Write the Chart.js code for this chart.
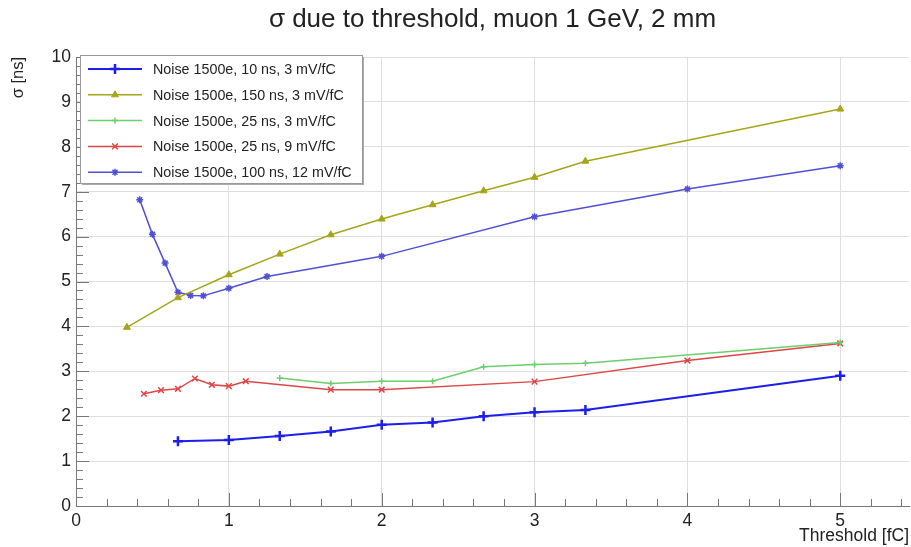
<!DOCTYPE html>
<html>
<head>
<meta charset="utf-8">
<style>
	html, body { margin: 0; padding: 0; background: #fff; }
	canvas { display: block; }
</style>
</head>
<body>
<canvas id="myChart" width="911" height="547"></canvas>

<script src="https://cdn.jsdelivr.net/npm/chart.js"></script>
<script>

	// threshold [fC] and sigma [ns] per curve
	const x10ns = [0.667, 1.0, 1.333, 1.667, 2.0, 2.333, 2.667, 3.0, 3.333, 5.0]
	const y10ns = [1.44, 1.47, 1.56, 1.66, 1.81, 1.86, 2.0, 2.09, 2.14, 2.9]

	const x150ns = [0.333, 0.667, 1.0, 1.333, 1.667, 2.0, 2.333, 2.667, 3.0, 3.333, 5.0]
	const y150ns = [3.98, 4.64, 5.15, 5.61, 6.04, 6.39, 6.71, 7.02, 7.32, 7.68, 8.84]

	const x25ns3 = [1.333, 1.667, 2.0, 2.333, 2.667, 3.0, 3.333, 5.0]
	const y25ns3 = [2.85, 2.73, 2.78, 2.78, 3.1, 3.15, 3.18, 3.64]

	const x25ns9 = [0.444, 0.556, 0.667, 0.778, 0.889, 1.0, 1.111, 1.667, 2.0, 3.0, 4.0, 5.0]
	const y25ns9 = [2.5, 2.58, 2.61, 2.84, 2.7, 2.67, 2.78, 2.59, 2.59, 2.77, 3.24, 3.62]

	const x100ns = [0.417, 0.5, 0.583, 0.667, 0.75, 0.833, 1.0, 1.25, 2.0, 3.0, 4.0, 5.0]
	const y100ns = [6.82, 6.05, 5.41, 4.76, 4.69, 4.68, 4.85, 5.11, 5.56, 6.44, 7.06, 7.58]

	const labels = [
		'Noise 1500e, 10 ns, 3 mV/fC',
		'Noise 1500e, 150 ns, 3 mV/fC',
		'Noise 1500e, 25 ns, 3 mV/fC',
		'Noise 1500e, 25 ns, 9 mV/fC',
		'Noise 1500e, 100 ns, 12 mV/fC'
	]

	const toPoints = (xs, ys) => xs.map((x, i) => ({ x: x, y: ys[i] }))

	const font = '"Liberation Sans", Arial, sans-serif'

	// minor ticks on the bottom and left edges, like the ROOT frame
	const minorTicks = {
		id: 'minorTicks',
		afterDraw(chart) {
			const ctx = chart.ctx
			const a = chart.chartArea
			const xs = chart.scales.x
			const ys = chart.scales.y
			ctx.save()
			ctx.strokeStyle = '#777'
			ctx.lineWidth = 1
			ctx.beginPath()
			for (let i = 0; i <= 50; i++) {
				const py = Math.round(ys.getPixelForValue(i * 0.2)) + 0.5
				const len = i % 5 === 0 ? 13 : 7
				ctx.moveTo(a.left, py)
				ctx.lineTo(a.left + len, py)
			}
			for (let i = 0; i <= 27; i++) {
				const px = Math.round(xs.getPixelForValue(i * 0.2)) + 0.5
				const len = i % 5 === 0 ? 13 : 7
				ctx.moveTo(px, a.bottom)
				ctx.lineTo(px, a.bottom - len)
			}
			ctx.stroke()
			ctx.restore()
		}
	}

	// ROOT-style legend box in the top left corner
	const boxLegend = {
		id: 'boxLegend',
		afterDraw(chart) {
			const ctx = chart.ctx
			const a = chart.chartArea
			const bx = a.left + 4, by = a.top - 2, bw = 282, bh = 128
			ctx.save()
			ctx.fillStyle = '#aaa'
			ctx.fillRect(bx + 2, by + 2, bw, bh)
			ctx.fillStyle = '#fff'
			ctx.fillRect(bx, by, bw, bh)
			ctx.strokeStyle = '#999'
			ctx.lineWidth = 1
			ctx.strokeRect(bx + 0.5, by + 0.5, bw, bh)
			chart.data.datasets.forEach((ds, i) => {
				const yy = by + 14 + i * 25.8
				ctx.strokeStyle = ds.borderColor
				ctx.lineWidth = ds.borderWidth
				ctx.beginPath()
				ctx.moveTo(bx + 8, yy)
				ctx.lineTo(bx + 62, yy)
				ctx.stroke()
				ctx.fillStyle = ds.pointBackgroundColor
				ctx.strokeStyle = ds.pointBorderColor
				ctx.lineWidth = ds.pointBorderWidth
				Chart.helpers.drawPoint(ctx, {
					pointStyle: ds.pointStyle,
					radius: ds.pointRadius,
					rotation: 0,
					borderWidth: ds.pointBorderWidth
				}, bx + 35, yy)
				ctx.fillStyle = '#222'
				ctx.font = '14.3px ' + font
				ctx.textBaseline = 'middle'
				ctx.fillText(ds.label, bx + 73, yy + 1)
			})
			ctx.restore()
		}
	}

	const colors = ['rgb(30,30,235)', 'rgb(165,165,25)', 'rgb(110,205,110)', 'rgb(220,70,70)', 'rgb(80,80,215)']

	const data = {
		datasets: [{
			label: labels[0],
			data: toPoints(x10ns, y10ns),
			borderColor: colors[0],
			borderWidth: 2,
			pointStyle: 'cross',
			pointRadius: 5,
			pointBorderWidth: 2.5,
			pointBorderColor: colors[0],
			pointBackgroundColor: colors[0]
		}, {
			label: labels[1],
			data: toPoints(x150ns, y150ns),
			borderColor: colors[1],
			borderWidth: 1.5,
			pointStyle: 'triangle',
			pointRadius: 4,
			pointBorderWidth: 1,
			pointBorderColor: colors[1],
			pointBackgroundColor: colors[1]
		}, {
			label: labels[2],
			data: toPoints(x25ns3, y25ns3),
			borderColor: colors[2],
			borderWidth: 1.5,
			pointStyle: 'cross',
			pointRadius: 3,
			pointBorderWidth: 1.5,
			pointBorderColor: colors[2],
			pointBackgroundColor: colors[2]
		}, {
			label: labels[3],
			data: toPoints(x25ns9, y25ns9),
			borderColor: colors[3],
			borderWidth: 1.5,
			pointStyle: 'crossRot',
			pointRadius: 4,
			pointBorderWidth: 1.5,
			pointBorderColor: colors[3],
			pointBackgroundColor: colors[3]
		}, {
			label: labels[4],
			data: toPoints(x100ns, y100ns),
			borderColor: colors[4],
			borderWidth: 1.5,
			pointStyle: 'star',
			pointRadius: 3.5,
			pointBorderWidth: 1.5,
			pointBorderColor: colors[4],
			pointBackgroundColor: colors[4]
		}]
	}

	const chart = new Chart(document.getElementById('myChart'), {
		type: 'line',
		data,
		plugins: [minorTicks, boxLegend],
		options: {
			responsive: false,
			animation: false,
			layout: { autoPadding: false, padding: { left: 0, right: 2, top: 0, bottom: 0 } },
			plugins: {
				legend: { display: false },
				tooltip: { enabled: false },
				title: {
					display: true,
					fullSize: false,
					text: 'σ due to threshold, muon 1 GeV, 2 mm',
					color: '#222',
					font: { family: font, size: 26, weight: 'normal' },
					padding: { top: 4, bottom: 21.8 }
				}
			},
			scales: {
				x: {
					type: 'linear',
					min: 0,
					max: 5.45,
					afterFit: s => { s.height = 41 },
					border: { color: '#777' },
					grid: { color: '#dedede', drawTicks: false },
					ticks: {
						stepSize: 1,
						includeBounds: false,
						padding: 5,
						color: '#222',
						font: { family: font, size: 17.5 }
					},
					title: {
						display: true,
						text: 'Threshold [fC]',
						align: 'end',
						color: '#222',
						font: { family: font, size: 17.5 },
						padding: { top: 0, bottom: 0 }
					}
				},
				y: {
					min: 0,
					max: 10,
					afterFit: s => { s.width = 76 },
					border: { color: '#777' },
					grid: { color: '#dedede', drawTicks: false },
					ticks: {
						stepSize: 1,
						padding: 5,
						color: '#222',
						font: { family: font, size: 17.5 }
					},
					title: {
						display: true,
						text: 'σ [ns]',
						align: 'end',
						color: '#222',
						font: { family: font, size: 16.5 },
						padding: { top: 9, bottom: 0 }
					}
				}
			}
		}
	})
</script>
</body>
</html>
